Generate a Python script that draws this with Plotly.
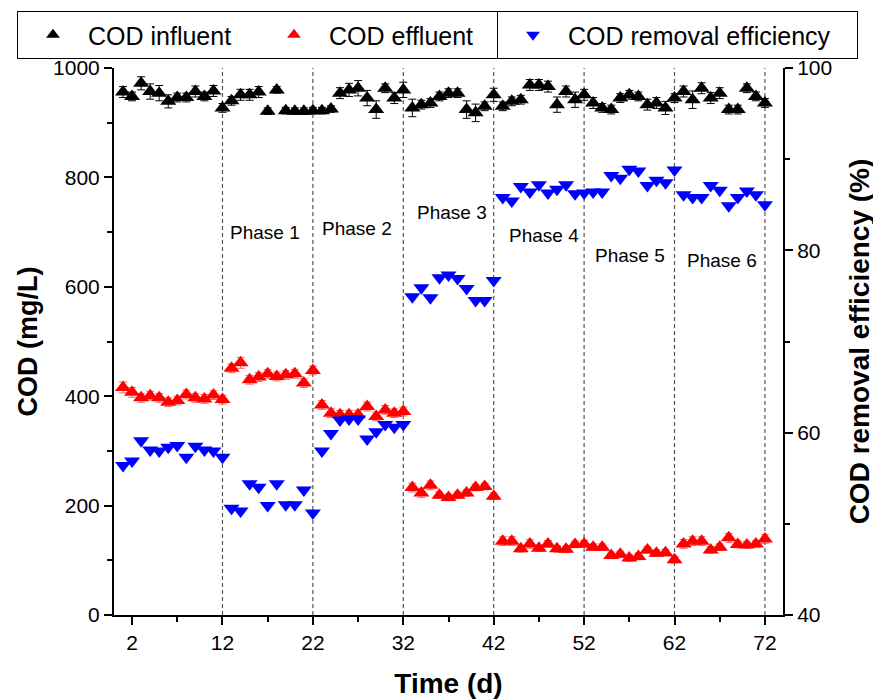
import plotly.graph_objects as go

days = list(range(1, 73))

influent = [956, 948, 972, 957, 954, 939, 946, 946, 957, 948, 958, 927,
            940, 951, 951, 956, 921, 960, 922, 921, 921, 922, 922, 925,
            954, 960, 963, 945, 924, 963, 945, 960,
            927, 933, 936, 948, 954, 954, 924, 918, 930, 951,
            930, 939, 942, 969, 969, 966, 933, 957, 942, 951,
            936, 927, 924, 945, 951, 948, 933, 936, 927, 945,
            957, 942, 963, 945, 954, 924, 924, 963, 948, 936]
influent_err = [10, 8, 12, 14, 14, 12, 8, 8, 10, 8, 10, 8,
                8, 10, 10, 10, 6, 6, 6, 6, 6, 6, 6, 6,
                10, 12, 14, 14, 16, 8, 10, 14,
                16, 8, 8, 8, 8, 8, 16, 16, 8, 12,
                8, 8, 8, 10, 10, 10, 14, 10, 14, 10,
                10, 8, 8, 8, 8, 8, 10, 10, 12, 8,
                10, 16, 10, 10, 10, 8, 8, 8, 8, 8]

effluent = [416, 407, 397, 401, 397, 389, 392, 403, 397, 395, 402, 394,
            451, 461, 430, 435, 441, 436, 439, 441, 424, 447,
            384, 369, 366, 366, 366, 381, 363, 375, 369, 372,
            233, 223, 237, 219, 215, 219, 223, 233, 235, 217,
            135, 135, 121, 130, 122, 130, 121, 120, 129, 130,
            124, 124, 109, 111, 104, 107, 119, 113, 114, 101,
            130, 135, 135, 119, 124, 141, 129, 128, 130, 139]
effluent_err = [10, 9, 8, 8, 8, 8, 8, 8, 8, 8, 8, 8,
                8, 10, 8, 8, 8, 8, 8, 8, 8, 8,
                8, 8, 8, 8, 8, 8, 8, 8, 8, 8,
                8, 8, 8, 6, 6, 6, 6, 6, 6, 6,
                8, 8, 6, 8, 6, 6, 6, 6, 6, 6,
                6, 6, 6, 6, 6, 6, 6, 6, 6, 6,
                8, 8, 8, 6, 6, 8, 6, 6, 6, 8]

efficiency = [56.4, 56.9, 59.1, 58.1, 58.0, 58.4, 58.6, 57.3, 58.5, 58.1, 58.0, 57.3,
              51.7, 51.4, 54.4, 54.0, 52.0, 54.4, 52.1, 52.1, 53.7, 51.2,
              58.0, 59.9, 61.4, 61.5, 61.5, 59.3, 60.1, 60.9, 60.6, 60.9,
              74.9, 75.9, 74.8, 77.0, 77.3, 76.9, 75.8, 74.5, 74.5, 76.7,
              85.8, 85.4, 87.0, 86.4, 87.2, 86.3, 86.7, 87.2, 86.2, 86.3,
              86.4, 86.4, 88.2, 87.9, 88.9, 88.7, 87.1, 87.7, 87.4, 88.8,
              86.1, 85.8, 85.8, 87.1, 86.6, 84.9, 85.8, 86.5, 86.1, 85.0]

phase_bounds = [12, 22, 32, 42, 52, 62, 72]
phase_labels = ["Phase 1", "Phase 2", "Phase 3", "Phase 4", "Phase 5", "Phase 6"]
phase_label_x = [16.7, 26.9, 37.4, 47.6, 57.1, 67.3]
phase_label_y = [700, 707, 735, 693, 658, 649]

x_ticks = [2, 12, 22, 32, 42, 52, 62, 72]
x_minor = [7, 17, 27, 37, 47, 57, 67]

FONT = "Liberation Sans, Arial, sans-serif"

fig = go.Figure()

fig.add_trace(go.Scatter(
    x=days, y=influent, mode="markers", name="COD influent",
    marker=dict(symbol="triangle-up", size=14, color="#000000"),
    error_y=dict(type="data", array=influent_err, color="#000000", thickness=1, width=4),
    legend="legend",
))
fig.add_trace(go.Scatter(
    x=days, y=effluent, mode="markers", name="COD effluent",
    marker=dict(symbol="triangle-up", size=14, color="#FF0000"),
    error_y=dict(type="data", array=effluent_err, color="rgba(255,60,60,0.8)", thickness=1, width=4),
    legend="legend",
))
fig.add_trace(go.Scatter(
    x=days, y=efficiency, mode="markers", name="COD removal efficiency",
    marker=dict(symbol="triangle-down", size=14, color="#0000FF"),
    yaxis="y2", legend="legend2",
))

for xb in phase_bounds:
    fig.add_shape(type="line", xref="x", yref="paper", x0=xb, x1=xb, y0=0, y1=1,
                  line=dict(color="#555555", width=1.2, dash="4px,3px"), layer="below")

for lbl, lx, ly in zip(phase_labels, phase_label_x, phase_label_y):
    fig.add_annotation(x=lx, y=ly, xref="x", yref="y", text=lbl, showarrow=False,
                       font=dict(family=FONT, size=19, color="#000000"))

axis_common = dict(
    showline=True, linecolor="#000000", linewidth=2,
    ticks="outside", ticklen=8, tickwidth=2, tickcolor="#000000",
    showgrid=False, zeroline=False,
    tickfont=dict(family=FONT, size=21, color="#000000"),
)

# the page body adds an 8 px offset, so the figure is 8 px smaller each way
fig.update_layout(
    width=873, height=692,
    margin=dict(l=106, r=98, t=60, b=85, autoexpand=False),
    plot_bgcolor="white", paper_bgcolor="white",
    font=dict(family=FONT, color="#000000"),
    xaxis=dict(
        range=[0, 74], tickmode="array", tickvals=x_ticks,
        minor=dict(tickmode="array", tickvals=x_minor, ticks="outside", ticklen=5, tickwidth=2, tickcolor="#000000"),
        title=dict(text="<b>Time (d)</b>", font=dict(family=FONT, size=28), standoff=20),
        **axis_common,
    ),
    yaxis=dict(
        range=[0, 1000], tickmode="linear", tick0=0, dtick=200,
        minor=dict(dtick=100, ticks="outside", ticklen=5, tickwidth=2, tickcolor="#000000"),
        title=dict(text="<b>COD (mg/L)</b>", font=dict(family=FONT, size=27), standoff=8),
        **axis_common,
    ),
    yaxis2=dict(
        range=[40, 100], tickmode="linear", tick0=40, dtick=20,
        minor=dict(dtick=10, ticks="outside", ticklen=5, tickwidth=2, tickcolor="#000000"),
        overlaying="y", side="right", anchor="x",
        title=dict(text="<b>COD removal efficiency (%)</b>", font=dict(family=FONT, size=28), standoff=18),
        **axis_common,
    ),
    legend=dict(
        orientation="h", x=-0.145, y=1.104, xanchor="left", yanchor="top",
        bordercolor="#000000", borderwidth=1, bgcolor="white",
        font=dict(family=FONT, size=25, color="#000000"),
        itemwidth=60, entrywidth=166, itemsizing="constant",
    ),
    legend2=dict(
        orientation="h", x=0.5725, y=1.104, xanchor="left", yanchor="top",
        bordercolor="#000000", borderwidth=1, bgcolor="white",
        font=dict(family=FONT, size=25, color="#000000"),
        itemwidth=60, entrywidth=284, itemsizing="constant",
    ),
)

fig.write_html("out.html")
